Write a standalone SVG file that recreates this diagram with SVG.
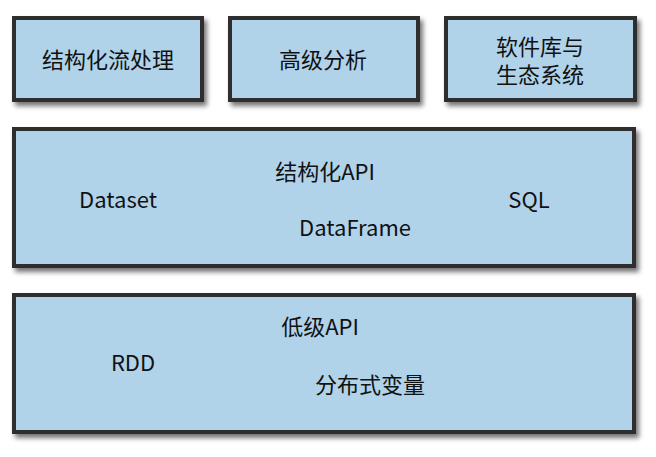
<svg xmlns="http://www.w3.org/2000/svg" width="656" height="457" viewBox="0 0 656 457">
<defs>
<filter id="sh" x="-10%" y="-10%" width="130%" height="140%">
<feGaussianBlur in="SourceAlpha" stdDeviation="2.5"/>
<feOffset dx="3" dy="4" result="b"/>
<feComponentTransfer><feFuncA type="linear" slope="0.55"/></feComponentTransfer>
<feMerge><feMergeNode/><feMergeNode in="SourceGraphic"/></feMerge>
</filter>
</defs>
<style>
.box{fill:#b0d3ea;stroke:#2e2e2e;stroke-width:4;filter:url(#sh)}
text{font-family:"Noto Sans CJK SC","Noto Sans",sans-serif;font-size:22px;fill:#111;text-anchor:middle;dominant-baseline:central}
</style>
<rect width="656" height="457" fill="#fff"/>
<g id="n1"><rect class="box" x="14" y="18" width="188" height="82"/><text x="108" y="58">结构化流处理</text></g>
<g id="n2"><rect class="box" x="230" y="18" width="188" height="82"/><text x="323" y="58">高级分析</text></g>
<g id="n3"><rect class="box" x="446" y="18" width="189" height="82"/><text x="540" y="45">软件库与<tspan x="540" dy="28">生态系统</tspan></text></g>
<g id="n4"><rect class="box" x="14" y="129" width="620" height="137"/><text x="325" y="170">结构化API</text><text x="118" y="198">Dataset</text><text x="529" y="198">SQL</text><text x="355" y="226">DataFrame</text></g>
<g id="n5"><rect class="box" x="14" y="295" width="620" height="137"/><text x="320" y="325">低级API</text><text x="133" y="361">RDD</text><text x="370" y="383">分布式变量</text></g>
<g id="connectors"></g>
</svg>
